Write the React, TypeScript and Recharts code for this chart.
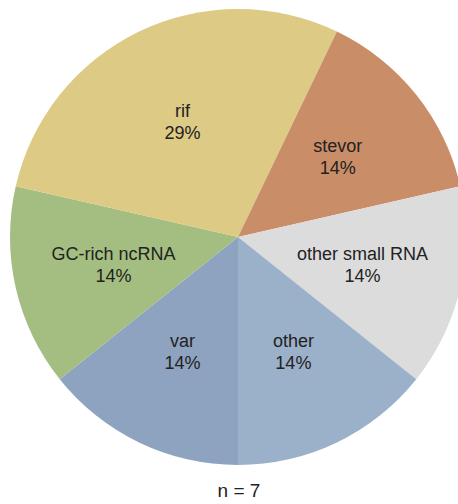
import { PieChart, Pie, Cell } from 'recharts'

const categories = ['var', 'GC-rich ncRNA', 'rif', 'stevor', 'other small RNA', 'other']
const counts = [1, 1, 2, 1, 1, 1]
const COLORS = ['#8ea3bf', '#a3be80', '#dcca85', '#c98d67', '#dcdcdc', '#9bb0c9']
const total = counts.reduce((a, b) => a + b, 0)

const data = categories.map((name, i) => ({ name, value: counts[i] }))

const RADIAN = Math.PI / 180

const renderLabel = (props: any) => {
  const { cx, cy, midAngle, outerRadius, name, value } = props
  const r = outerRadius * 0.56
  const x = cx + r * Math.cos(-midAngle * RADIAN)
  const y = cy + r * Math.sin(-midAngle * RADIAN)
  const pct = Math.round((value / total) * 100)
  return (
    <text
      x={x}
      y={y}
      textAnchor="middle"
      fill="#222"
      fontSize={18}
      fontFamily="'Liberation Sans', Arial, sans-serif"
    >
      <tspan x={x} dy={-5}>{name}</tspan>
      <tspan x={x} dy={22}>{pct}%</tspan>
    </text>
  )
}

export default function App() {
  return (
    <div style={{ position: 'absolute', left: 0, top: 0, width: 458, height: 504, background: '#fff' }}>
      <PieChart
        width={458}
        height={504}
        margin={{ top: 0, right: 0, bottom: 0, left: 0 }}
        style={{ overflow: 'visible' }}
      >
        <Pie
          data={data}
          dataKey="value"
          nameKey="name"
          cx={238}
          cy={237}
          outerRadius={228}
          startAngle={270}
          endAngle={-90}
          stroke="none"
          labelLine={false}
          label={renderLabel}
          isAnimationActive={false}
        >
          {data.map((_entry, index) => (
            <Cell key={`cell-${index}`} fill={COLORS[index % COLORS.length]} />
          ))}
        </Pie>
        <text
          x={239}
          y={497}
          textAnchor="middle"
          fill="#222"
          fontSize={19}
          fontFamily="'Liberation Sans', Arial, sans-serif"
        >
          n = 7
        </text>
      </PieChart>
    </div>
  )
}
